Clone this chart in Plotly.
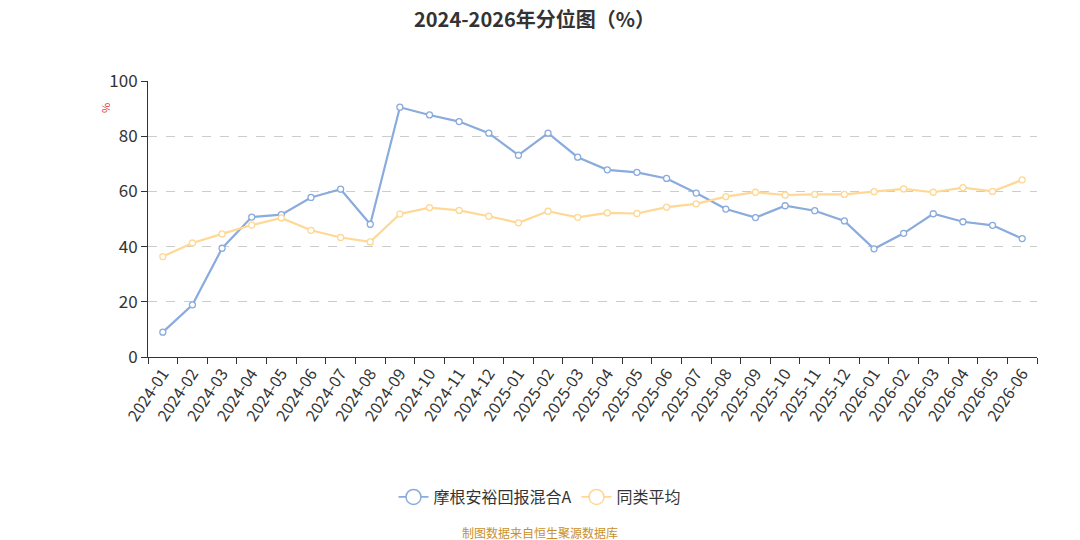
import plotly.graph_objects as go

months = ["2024-01","2024-02","2024-03","2024-04","2024-05","2024-06","2024-07","2024-08","2024-09","2024-10","2024-11","2024-12",
          "2025-01","2025-02","2025-03","2025-04","2025-05","2025-06","2025-07","2025-08","2025-09","2025-10","2025-11","2025-12",
          "2026-01","2026-02","2026-03","2026-04","2026-05","2026-06"]
fund_vals = [9.0, 18.9, 39.4, 50.7, 51.6, 57.8, 60.8, 48.1, 90.5, 87.7, 85.3, 81.1,
             73.1, 81.1, 72.4, 67.8, 66.9, 64.7, 59.4, 53.6, 50.5, 54.8, 53.0, 49.3,
             39.2, 44.8, 51.9, 49.0, 47.7, 42.9]
avg_vals = [36.4, 41.3, 44.6, 47.8, 50.4, 45.9, 43.3, 41.7, 51.8, 54.1, 53.1, 51.0,
            48.6, 52.8, 50.6, 52.2, 52.0, 54.3, 55.5, 58.1, 59.7, 58.7, 58.9, 58.9,
            59.9, 60.9, 59.7, 61.4, 60.0, 64.2]
y_ticks = [0, 20, 40, 60, 80, 100]
series_names = ["摩根安裕回报混合A", "同类平均"]
title_text = "2024-2026年分位图（%）"

FONT = "Noto Sans CJK SC"
blue = "#8aabdd"
orange = "#fed894"

# page body has an 8px margin; figure is offset by (8, 8) in the window
OFF = 8
W, H = 1080 - OFF, 540 - OFF
L, R, T, B = 148 - OFF, 1080 - 1037, 81 - OFF, 540 - 357
PW, PH = 1037 - 148, 357 - 81

fig = go.Figure()
for vals, name, col in [(fund_vals, series_names[0], blue), (avg_vals, series_names[1], orange)]:
    fig.add_trace(go.Scatter(x=months, y=vals, name=name, mode="lines+markers", showlegend=False,
                             line=dict(color=col, width=2.2),
                             marker=dict(symbol="circle", size=6, color="white", line=dict(color=col, width=1.3))))
for name, col in [(series_names[0], blue), (series_names[1], orange)]:
    fig.add_trace(go.Scatter(x=[None], y=[None], name=name, mode="lines+markers", showlegend=True,
                             line=dict(color=col, width=1.8),
                             marker=dict(symbol="circle", size=15, color="white", line=dict(color=col, width=1.5))))

fig.update_layout(
    width=W, height=H,
    margin=dict(l=L, r=R, t=T, b=B),
    paper_bgcolor="white", plot_bgcolor="white",
    font=dict(family=FONT, color="#333333"),
    showlegend=True,
    legend=dict(orientation="h", x=(540 - 148) / PW, xanchor="center", y=(357 - 497) / PH, yanchor="middle",
                font=dict(size=16, color="#333333"), itemwidth=30, tracegroupgap=0),
    xaxis=dict(type="category", tickangle=-56, tickson="boundaries", ticks="outside", ticklen=6,
               tickcolor="#333333", showline=True, linecolor="#333333", linewidth=1,
               showgrid=False, tickfont=dict(size=16, color="#333333"),
               range=[-0.5, len(months) - 0.5]),
    yaxis=dict(range=[0, 100], tickvals=y_ticks, ticks="outside", ticklen=6, tickcolor="#333333",
               showline=True, linecolor="#333333", linewidth=1,
               showgrid=True, gridcolor="#cccccc", griddash="dash", gridwidth=1,
               zeroline=False, tickfont=dict(size=17, color="#333333")),
    annotations=[
        dict(text="<b>" + title_text + "</b>", x=(534 - 148) / PW, y=(357 - 19) / PH, xref="paper", yref="paper",
             xanchor="center", yanchor="middle", showarrow=False,
             font=dict(size=20, color="#333333", family=FONT)),
        dict(text="%", x=(105 - 148) / PW, y=(357 - 108) / PH, xref="paper", yref="paper",
             xanchor="center", yanchor="middle", showarrow=False,
             font=dict(size=11, color="#e83030"), textangle=-90),
        dict(text="制图数据来自恒生聚源数据库", x=(540 - 148) / PW, y=(357 - 532) / PH, xref="paper", yref="paper",
             xanchor="center", yanchor="middle",
             showarrow=False, font=dict(size=12, color="#c8902a")),
    ],
)

fig.write_html("out.html")
